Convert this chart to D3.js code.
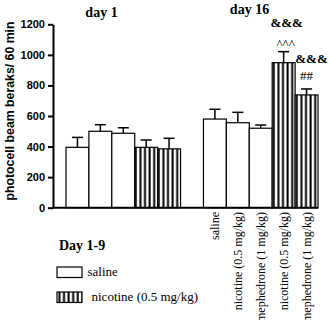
<!DOCTYPE html>
<html>
<head>
<meta charset="utf-8">
<script src="https://cdn.jsdelivr.net/npm/d3@7"></script>
<style>
  body { margin: 0; background: #fff; }
  svg { display: block; }
</style>
</head>
<body>
<script>
'use strict';

// values
const day1Values = [395, 500, 487, 395, 385];
const day1ErrTop = [460, 543, 523, 443, 454];
const day1Fill = ["saline", "saline", "saline", "nicotine", "nicotine"];

const day16Values = [580, 556, 520, 949, 738];
const day16ErrTop = [644, 624, 541, 1021, 777];
const day16Fill = ["saline", "saline", "saline", "nicotine", "nicotine"];
const day16Labels = ["saline", "nicotine (0.5 mg/kg)", "mephedrone (1 mg/kg)",
  "nicotine (0.5 mg/kg)", "mephedrone (1 mg/kg)"];

const yTicks = [0, 200, 400, 600, 800, 1000, 1200];
const legendNames = ["saline", "nicotine (0.5 mg/kg)"];

const svg = d3.select('body')
  .append('svg')
  .attr('width', 330)
  .attr('height', 320);

// vertical stripe pattern for nicotine bars
const pat = svg.append('defs').append('pattern')
  .attr('id', 'stripes')
  .attr('patternUnits', 'userSpaceOnUse')
  .attr('width', 4.6)
  .attr('height', 10);
pat.append('rect').attr('width', 4.6).attr('height', 10).attr('fill', '#fff');
pat.append('rect').attr('x', 1.4).attr('width', 2).attr('height', 10).attr('fill', '#000');

const fillOf = k => k === "nicotine" ? "url(#stripes)" : "#fff";

// 11 slots: day 1 uses 0-4, slot 5 is the gap, day 16 uses 6-10
const x = d3.scaleBand()
  .domain(d3.range(11))
  .range([66, 318])
  .padding(0);

const y = d3.scaleLinear()
  .domain([0, 1200])
  .range([207.7, 24.3]);

let bars = [];
day1Values.forEach((v, i) => bars.push({ slot: i, v: v, e: day1ErrTop[i], f: day1Fill[i] }));
day16Values.forEach((v, i) => bars.push({ slot: 6 + i, v: v, e: day16ErrTop[i], f: day16Fill[i], label: day16Labels[i] }));

// error whiskers (upper only)
const capW = 11;
svg.selectAll('.err')
  .data(bars)
  .enter()
  .append('line')
  .attr('x1', d => x(d.slot) + x.bandwidth() / 2)
  .attr('x2', d => x(d.slot) + x.bandwidth() / 2)
  .attr('y1', d => y(d.v))
  .attr('y2', d => y(d.e))
  .attr('stroke', '#000')
  .attr('stroke-width', 1.5);
svg.selectAll('.cap')
  .data(bars)
  .enter()
  .append('line')
  .attr('x1', d => x(d.slot) + x.bandwidth() / 2 - capW / 2)
  .attr('x2', d => x(d.slot) + x.bandwidth() / 2 + capW / 2)
  .attr('y1', d => y(d.e))
  .attr('y2', d => y(d.e))
  .attr('stroke', '#000')
  .attr('stroke-width', 1.5);

// bars
svg.selectAll('.bar')
  .data(bars)
  .enter()
  .append('rect')
  .attr('x', d => x(d.slot))
  .attr('y', d => y(d.v))
  .attr('width', x.bandwidth())
  .attr('height', d => y(0) - y(d.v))
  .attr('fill', d => fillOf(d.f))
  .attr('stroke', '#000')
  .attr('stroke-width', 1.2);

// axes
const yAxis = d3.axisLeft(y).tickValues(yTicks).tickFormat(d3.format("d")).tickSize(5).tickSizeOuter(0);
const gy = svg.append('g')
  .attr('transform', 'translate(53,0)')
  .call(yAxis);
gy.select('.domain').attr('stroke-width', 2);
gy.selectAll('.tick line').attr('stroke-width', 2);
gy.selectAll('.tick text')
  .attr('x', -8)
  .style('font-family', 'Liberation Sans, Arial, sans-serif')
  .style('font-weight', 'bold')
  .style('font-size', '11px')
  .attr('fill', '#000');

svg.append('line')
  .attr('x1', 52)
  .attr('x2', x.range()[1])
  .attr('y1', y(0))
  .attr('y2', y(0))
  .attr('stroke', '#000')
  .attr('stroke-width', 2);

// rotated category labels under day 16 bars
svg.selectAll('.xlab')
  .data(bars.filter(d => d.label))
  .enter()
  .append('text')
  .attr('transform', d => 'translate(' + (x(d.slot) + x.bandwidth() / 2) + ',212)rotate(-90)')
  .attr('dy', '0.35em')
  .attr('text-anchor', 'end')
  .style('font-family', 'Liberation Serif, Times New Roman, serif')
  .style('font-size', '12px')
  .text(d => d.label);

// y label
svg.append('text')
  .attr('transform', 'translate(14,111)rotate(-90)')
  .attr('text-anchor', 'middle')
  .style('font-family', 'Liberation Sans, Arial, sans-serif')
  .style('font-weight', 'bold')
  .style('font-size', '12.3px')
  .text('photocell beam beraks/ 60 min');

// day titles
const serif = 'Liberation Serif, Times New Roman, serif';
svg.append('text')
  .attr('x', 101.5).attr('y', 16.5)
  .attr('text-anchor', 'middle')
  .style('font-family', serif).style('font-weight', 'bold').style('font-size', '14px')
  .text('day 1');
svg.append('text')
  .attr('x', 249.5).attr('y', 13.5)
  .attr('text-anchor', 'middle')
  .style('font-family', serif).style('font-weight', 'bold').style('font-size', '14px')
  .text('day 16');

// significance marks
const marks = [
  { slot: 9, dx: 3, y: 27, t: '&&&', bold: true },
  { slot: 9, dx: 2, y: 48, t: '^^^', bold: false },
  { slot: 10, dx: 5, y: 63, t: '&&&', bold: true },
  { slot: 10, dx: 0, y: 80, t: '##', bold: false }
];
svg.selectAll('.mark')
  .data(marks)
  .enter()
  .append('text')
  .attr('x', d => x(d.slot) + x.bandwidth() / 2 + d.dx)
  .attr('y', d => d.y)
  .attr('text-anchor', 'middle')
  .style('font-family', serif)
  .style('font-weight', d => d.bold ? 'bold' : 'normal')
  .style('font-size', '13px')
  .text(d => d.t);

// legend
svg.append('text')
  .attr('x', 59).attr('y', 249.5)
  .style('font-family', serif).style('font-weight', 'bold').style('font-size', '14px')
  .text('Day 1-9');

const legend = svg.selectAll('.leg')
  .data(legendNames)
  .enter()
  .append('g')
  .attr('transform', (d, i) => 'translate(57,' + (267 + i * 25) + ')');
legend.append('rect')
  .attr('width', 25)
  .attr('height', 10.5)
  .attr('fill', (d, i) => i === 0 ? '#fff' : 'url(#stripes)')
  .attr('stroke', '#000')
  .attr('stroke-width', 1.2);
legend.append('text')
  .attr('x', (d, i) => i === 0 ? 30.5 : 34.5)
  .attr('y', 8.5)
  .style('font-family', serif)
  .style('font-size', '13px')
  .text(d => d);
</script>
</body>
</html>
